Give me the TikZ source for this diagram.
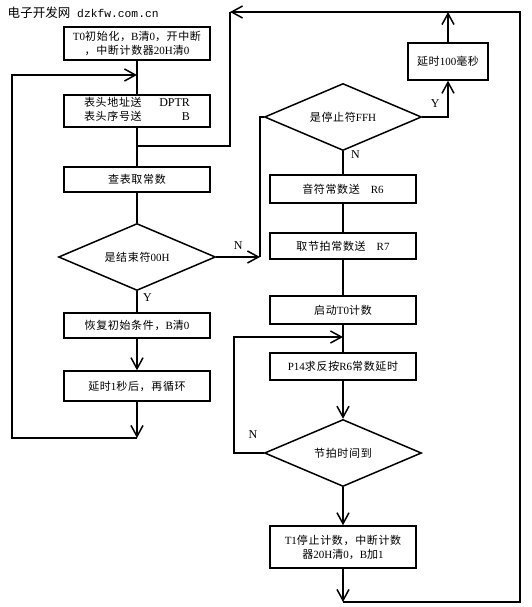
\documentclass[tikz,border=0pt]{standalone}
\usepackage{fontspec}
\setmainfont{Liberation Serif}
\setmonofont{Liberation Mono}
\newfontfamily\cjk[LetterSpace=6]{Noto Sans CJK SC}
\newfontfamily\cjkmark{Noto Sans CJK SC}
\usetikzlibrary{arrows.meta,shapes.geometric}
\begin{document}
\begin{tikzpicture}[x=1pt,y=-1pt,
  line width=1.5pt,
  >={Straight Barb[length=11pt,width=12pt,line width=1.5pt]},
  box/.style={draw,rectangle,inner sep=1pt,align=center,font=\cjk\fontsize{11}{14}\selectfont},
  cond/.style={draw,diamond,inner sep=0pt,shape aspect=2.5,minimum width=157pt,minimum height=67pt,font=\cjk\fontsize{11}{14}\selectfont},
  lbl/.style={font=\fontsize{12}{14}\selectfont}]
\useasboundingbox (0,0) rectangle (532,607);
\pgfmathsetmacro\lx{137};
\pgfmathsetmacro\rx{343};
% watermark
\node[anchor=west,inner sep=0pt] (mark) at (7,13) {{\cjkmark\fontsize{12.5}{14}\selectfont 电子开发网}\hspace{7pt}{\ttfamily\fontsize{11.3}{13}\selectfont dzkfw.com.cn}};
% left column
\node[box,minimum width=146pt,minimum height=33pt] (init) at (\lx,43.5) {{\rmfamily T0}初始化，{\rmfamily B}清{\rmfamily 0}，开中断\\，中断计数器{\rmfamily 20H}清{\rmfamily 0}};
\node[box,minimum width=146pt,minimum height=32pt] (head) at (\lx,111) {\begin{tabular}{@{}l@{\hspace{1.6em}}r@{}}表头地址送&{\rmfamily\fontsize{12}{14}\selectfont DPTR}\\表头序号送&{\rmfamily\fontsize{12}{14}\selectfont B}\end{tabular}};
\node[box,minimum width=146pt,minimum height=25pt] (look) at (\lx,179.5) {查表取常数};
\node[cond] (isend) at (\lx,257) {是结束符{\rmfamily 00H}};
\node[box,minimum width=146pt,minimum height=25pt] (reset) at (\lx,325.5) {恢复初始条件，{\rmfamily B}清{\rmfamily 0}};
\node[box,minimum width=146pt,minimum height=30pt] (wait) at (\lx,386) {延时{\rmfamily 1}秒后，再循环};
% right column
\node[cond] (isstop) at (\rx,117) {是停止符{\rmfamily FFH}};
\node[box,minimum width=80pt,minimum height=37pt] (pause) at (448,61.5) {延时{\rmfamily 100}毫秒};
\node[box,minimum width=146pt,minimum height=28pt] (tone) at (\rx,189) {音符常数送\quad{\rmfamily R6}};
\node[box,minimum width=146pt,minimum height=26pt] (beat) at (\rx,246) {取节拍常数送\quad{\rmfamily R7}};
\node[box,minimum width=146pt,minimum height=28pt] (start) at (\rx,310) {启动{\rmfamily T0}计数};
\node[box,minimum width=146pt,minimum height=27pt] (flip) at (\rx,366.5) {{\rmfamily P14}求反按{\rmfamily R6}常数延时};
\node[cond] (isbeat) at (\rx,453) {节拍时间到};
\node[box,minimum width=146pt,minimum height=42pt] (stop) at (\rx,547) {{\rmfamily T1}停止计数，中断计数\\器{\rmfamily 20H}清{\rmfamily 0}，{\rmfamily B}加{\rmfamily 1}};
% join points
\coordinate (loopin) at (\lx,75);
\coordinate (loopout) at (\lx,438);
\coordinate (loopx) at (12,0);
\coordinate (back) at (\lx,146);
\coordinate (topl) at (230,12);
\coordinate (topr) at (520,12);
\coordinate (botr) at (520,602);
\coordinate (botm) at (\rx,602);
\coordinate (nomark) at (260,257);
\coordinate (beatin) at (\rx,337);
\coordinate (beatx) at (234,0);
% connectors, left
\draw (init) -- (head);
\draw (head) -- (look);
\draw (look) -- (isend);
\draw (isend) -- (reset) node[lbl,pos=0.3,right=2pt] {Y};
\draw[->] (reset) -- (wait);
\draw[->] (wait) -- (loopout);
\draw[->] (loopout) -- (loopout -| loopx) -- (loopin -| loopx) -- (loopin);
\draw[->] (isend.east) -- (nomark) node[lbl,midway,above=3pt] {N};
\draw (nomark) |- (isstop.west);
% connectors, right
\draw[->] (isstop.east) -| (pause.south) node[lbl,pos=0.25,above=5pt] {Y};
\draw[->] (pause.north) -- (pause.north |- topl);
\draw (isstop) -- (tone) node[lbl,pos=0.15,right=4pt] {N};
\draw (tone) -- (beat);
\draw (beat) -- (start);
\draw (start) -- (flip);
\draw[->] (flip) -- (isbeat);
\draw[->] (isbeat.west) -- (isbeat.west -| beatx) -- (beatin -| beatx) -- (beatin);
\node[lbl] (nlabel) at (253,435) {N};
\draw[->] (isbeat) -- (stop);
\draw[->] (stop) -- (botm);
\draw[->] (botm) -- (botr) -- (topr) -- (topl);
\draw (topl) |- (back);
\end{tikzpicture}
\end{document}
